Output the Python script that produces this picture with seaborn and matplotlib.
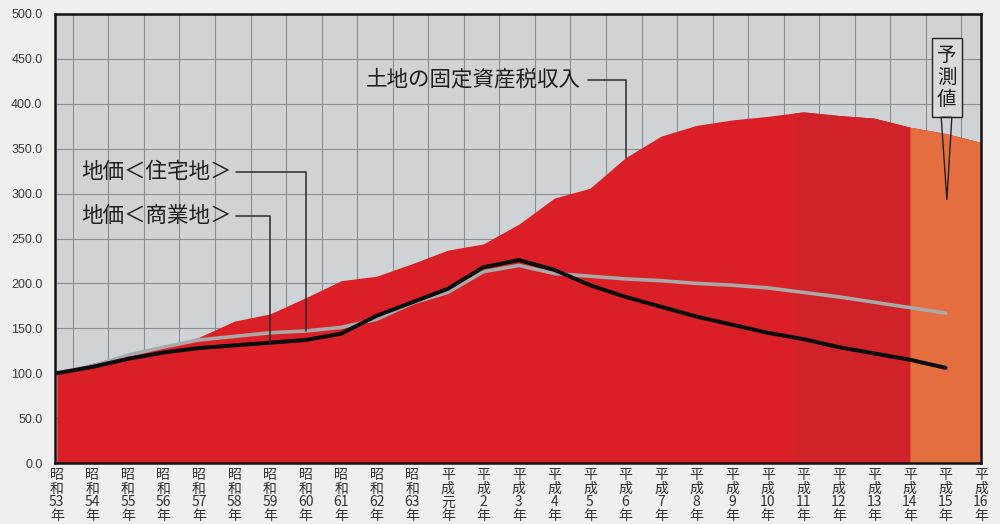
import numpy as np
import matplotlib
matplotlib.use("Agg")
import matplotlib.pyplot as plt
import seaborn as sns
from matplotlib.patches import Polygon, Rectangle

# Fiscal years (era + year number), 昭和53年 .. 平成16年
eras = ["昭和"] * 11 + ["平成"] * 16
year_nums = ["53", "54", "55", "56", "57", "58", "59", "60", "61", "62", "63",
             "元", "2", "3", "4", "5", "6", "7", "8", "9", "10",
             "11", "12", "13", "14", "15", "16"]

# Index values (昭和53年 = 100)
tax_revenue = [100, 111, 121, 129, 140, 158, 166, 184, 203, 208, 222, 237, 244,
               266, 295, 306, 340, 364, 376, 382, 386, 391, 387, 384, 374, 367, 357]
land_residential = [100, 108, 120, 129, 137, 141, 145, 147, 151, 160, 178, 190, 213,
                    220, 211, 208, 205, 203, 200, 198, 195, 190, 185, 179, 173, 167]
land_commercial = [100, 107, 116, 123, 128, 131, 134, 137, 144, 164, 179, 194, 218,
                   226, 215, 198, 185, 174, 163, 154, 145, 138, 129, 122, 115, 106]

forecast_start = 24        # 平成14年 onwards is projected
shade_start = 20.75        # slightly darker band before the projection

y_ticks = [0, 50, 100, 150, 200, 250, 300, 350, 400, 450, 500]

RED = "#db1f26"
RED_DARK = "#cf2229"
ORANGE = "#e46e40"
PLOT_BG = "#cfd3d6"
PAGE_BG = "#eff0ee"

sns.set_style("white")
plt.rcParams["font.family"] = ["Noto Sans CJK JP", "DejaVu Sans"]

fig = plt.figure(figsize=(10, 5.24), dpi=100, facecolor=PAGE_BG)
ax = fig.add_axes([0.055, 1 - 463 / 524, 0.926, (463 - 14) / 524])
ax.set_facecolor(PLOT_BG)
ax.set_xlim(-0.05, 26)
ax.set_ylim(0, 500)

# Grid: horizontal every 50, vertical between the years
ax.set_axisbelow(True)
ax.set_yticks(y_ticks)
ax.set_xticks(np.arange(len(year_nums) - 1) + 0.45, minor=True)
ax.grid(axis="y", which="major", color="#8a8e93", lw=0.8)
ax.grid(axis="x", which="minor", color="#8a8e93", lw=0.8)
ax.grid(axis="x", which="major", visible=False)

# Land fixed-asset tax revenue as a filled area
x_tax = np.arange(len(tax_revenue))
xs = np.linspace(0, x_tax[-1], 2601)
ys = np.interp(xs, x_tax, tax_revenue)
ax.fill_between(xs, ys, color=RED, lw=0, zorder=2)
ax.fill_between(xs, ys, where=(xs >= shade_start) & (xs <= forecast_start),
                color=RED_DARK, lw=0, zorder=2)
ax.fill_between(xs, ys, where=xs >= forecast_start, color=ORANGE, lw=0, zorder=2)

# Land price lines
x_land = np.arange(len(land_residential))
sns.lineplot(x=x_land, y=land_residential, ax=ax, color="#a9a9a9", lw=2.6,
             zorder=4, legend=False)
sns.lineplot(x=x_land, y=land_commercial, ax=ax, color="#0c0c0c", lw=2.9,
             zorder=5, legend=False)

# Axes ticks and labels
ax.set_xticks(x_tax)
ax.set_xticklabels(["\n".join([e[0], e[1], n, "年"]) for e, n in zip(eras, year_nums)],
                   fontsize=10, color="#333333", linespacing=0.98, va="top")
ax.set_yticklabels([f"{v:.1f}" for v in y_ticks], fontsize=9, color="#3a3a3a",
                   family=["Liberation Sans", "DejaVu Sans"])
ax.tick_params(axis="both", which="both", length=0)
ax.tick_params(axis="x", pad=3.5)
ax.tick_params(axis="y", pad=9)
ax.set_xlabel("")
ax.set_ylabel("")
for side in ["left", "right", "top", "bottom"]:
    ax.spines[side].set_visible(True)
    ax.spines[side].set_color("#111111")
    ax.spines[side].set_linewidth(1.8)
    ax.spines[side].set_zorder(7)

# Callout labels with leader lines
lead = dict(color="#2a2a2a", lw=1.1, zorder=6)
ax.text(8.7, 427, "土地の固定資産税収入", fontsize=15.5, va="center", color="#1e1e1e", zorder=6)
ax.plot([14.95, 16, 16], [427, 427, tax_revenue[16]], **lead)

ax.text(0.7, 324, "地価＜住宅地＞", fontsize=15.5, va="center", color="#1e1e1e", zorder=6)
ax.plot([5.05, 7, 7], [324, 324, land_residential[7]], **lead)

ax.text(0.7, 275, "地価＜商業地＞", fontsize=15.5, va="center", color="#1e1e1e", zorder=6)
ax.plot([5.05, 6, 6], [275, 275, land_commercial[6]], **lead)

# Projection marker
ax.add_patch(Rectangle((24.62, 385), 0.84, 88, fc="#d6dadc", ec="#222222",
                       lw=1.0, zorder=6))
ax.text(25.04, 429, "予\n測\n値", fontsize=14, ha="center", va="center",
        linespacing=1.05, color="#1e1e1e", zorder=7)
ax.add_patch(Polygon([(24.88, 385), (25.04, 293), (25.18, 385)], closed=True,
                     fc="none", ec="#222222", lw=1.0, zorder=6))

fig.savefig("out.png", dpi=100, facecolor=PAGE_BG)
